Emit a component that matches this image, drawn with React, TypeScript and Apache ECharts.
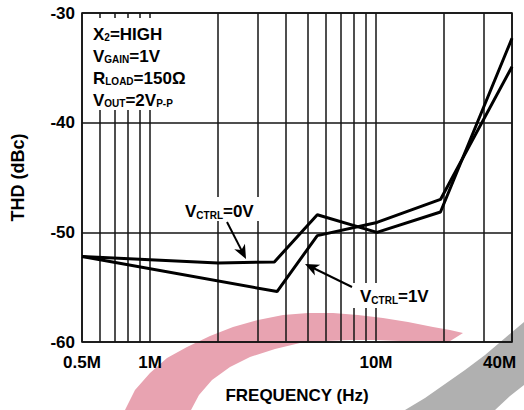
import React, { useEffect, useRef } from 'react';
import * as echarts from 'echarts';

// Axis ticks / grid (MHz on x, dBc on y)
const FREQ_LABELS = [0.5, 1, 10, 40];
const FREQ_GRID = [0.5, 0.6, 0.7, 0.8, 0.9, 1, 2, 3, 4, 5, 6, 7, 8, 9, 10, 20, 30, 40];
const THD_MIN = -60;
const THD_MAX = -30;
const THD_STEP = 10;

// Series: VCTRL = 0V
const FREQ_0V = [0.5, 2, 3.55, 5.5, 10.1, 19.3, 40];
const THD_0V = [-52.2, -52.8, -52.7, -48.4, -50.0, -48.15, -32.3];
// Series: VCTRL = 1V
const FREQ_1V = [0.5, 3.65, 5.5, 10.1, 19.3, 40];
const THD_1V = [-52.2, -55.4, -50.3, -49.1, -47.0, -34.9];

const FONT = "'Liberation Sans', Arial, Helvetica, sans-serif";

const zip = (xs: number[], ys: number[]) => xs.map((x, i) => [x, ys[i]]);

function arrow(x1: number, y1: number, x2: number, y2: number) {
  const dx = x2 - x1;
  const dy = y2 - y1;
  const len = Math.hypot(dx, dy);
  const ux = dx / len;
  const uy = dy / len;
  const nx = -uy;
  const ny = ux;
  const L = 14;
  const W = 6;
  const bx = x2 - ux * L;
  const by = y2 - uy * L;
  return [
    {
      type: 'line',
      z: 12,
      shape: { x1, y1, x2: x2 - ux * 8, y2: y2 - uy * 8 },
      style: { stroke: '#000', lineWidth: 2 },
    },
    {
      type: 'polygon',
      z: 12,
      shape: {
        points: [
          [x2, y2],
          [bx + nx * W, by + ny * W],
          [x2 - ux * L * 0.72, y2 - uy * L * 0.72],
          [bx - nx * W, by - ny * W],
        ],
      },
      style: { fill: '#000' },
    },
  ];
}

const richText = {
  m: { fontFamily: FONT, fontWeight: 'bold', fontSize: 17, lineHeight: 22, verticalAlign: 'bottom', fill: '#000' },
  s: { fontFamily: FONT, fontWeight: 'bold', fontSize: 10, lineHeight: 14, verticalAlign: 'bottom', fill: '#000' },
};

export default function App() {
  const ref = useRef<HTMLDivElement>(null);

  useEffect(() => {
    if (!ref.current) return;
    const chart = echarts.init(ref.current, undefined, { renderer: 'svg' });

    const pinkOuter = [
      [125, 410], [135, 390], [150, 373], [167, 358], [187, 347], [210, 336], [233, 327],
      [258, 320], [283, 315], [308, 313], [333, 313], [358, 315], [383, 318], [408, 322],
      [433, 327], [450, 330], [463, 333],
    ];
    const pinkInner = [
      [447, 343], [425, 341], [400, 341], [375, 340], [350, 340], [325, 341], [300, 343],
      [275, 349], [250, 357], [230, 367], [212, 380], [199, 395], [191, 410],
    ];
    const grayPts = [
      [405, 410], [425, 398], [445, 384], [465, 370], [485, 355], [505, 338], [524, 322],
      [524, 385], [510, 396], [495, 410],
    ];

    const graphic: any[] = [
      { type: 'polygon', z: -1, silent: true, shape: { points: [...pinkOuter, ...pinkInner] }, style: { fill: '#e8a3b1' } },
      { type: 'polygon', z: -1, silent: true, shape: { points: grayPts }, style: { fill: '#b0b0b0' } },
      // white masks behind the annotations
      { type: 'rect', z: 10, silent: true, shape: { x: 83.5, y: 18, width: 109, height: 92 }, style: { fill: '#fff' } },
      { type: 'rect', z: 10, silent: true, shape: { x: 182, y: 197, width: 80, height: 24 }, style: { fill: '#fff' } },
      { type: 'rect', z: 10, silent: true, shape: { x: 349, y: 283, width: 88, height: 25 }, style: { fill: '#fff' } },
      {
        type: 'text',
        z: 11,
        x: 93,
        y: 20.5,
        style: {
          text:
            '{m|X}{s|2}{m|=HIGH}\n{m|V}{s|GAIN}{m|=1V}\n{m|R}{s|LOAD}{m|=150Ω}\n{m|V}{s|OUT}{m|=2V}{s|P-P}',
          rich: richText,
          fontFamily: FONT,
          fontWeight: 'bold',
          fontSize: 17,
        },
      },
      {
        type: 'text',
        z: 11,
        x: 185,
        y: 198,
        style: { text: '{m|V}{s|CTRL}{m|=0V}', rich: richText, fontFamily: FONT, fontWeight: 'bold', fontSize: 17 },
      },
      {
        type: 'text',
        z: 11,
        x: 360,
        y: 283,
        style: { text: '{m|V}{s|CTRL}{m|=1V}', rich: richText, fontFamily: FONT, fontWeight: 'bold', fontSize: 17 },
      },
      ...arrow(227, 222, 246, 259),
      ...arrow(352, 287, 305, 264),
    ];

    const option: any = {
      animation: false,
      backgroundColor: '#fff',
      grid: {
        left: 82,
        right: 12,
        top: 13,
        bottom: 68,
        show: true,
        borderColor: '#000',
        borderWidth: 1.5,
        backgroundColor: 'transparent',
      },
      xAxis: {
        type: 'log',
        logBase: 10,
        min: 0.5,
        max: 40,
        name: 'FREQUENCY (Hz)',
        nameLocation: 'middle',
        nameGap: 45,
        nameTextStyle: { fontFamily: FONT, fontWeight: 'bold', fontSize: 17, color: '#000' },
        axisLine: { show: false },
        axisTick: { show: false, customValues: FREQ_GRID },
        minorTick: { show: false },
        axisLabel: {
          customValues: FREQ_LABELS,
          margin: 12,
          fontFamily: FONT,
          fontWeight: 'bold',
          fontSize: 17,
          color: '#000',
          formatter: (v: number) => (Math.abs(v - 40) < 1e-6 ? '{r|40M}' : `${v}M`),
          rich: {
            r: { width: 58, align: 'left', fontFamily: FONT, fontWeight: 'bold', fontSize: 17, color: '#000' },
          },
        },
        splitLine: { show: true, lineStyle: { color: '#141414', width: 1.5 } },
      },
      yAxis: {
        type: 'value',
        min: THD_MIN,
        max: THD_MAX,
        interval: THD_STEP,
        name: 'THD (dBc)',
        nameLocation: 'middle',
        nameGap: 55,
        nameTextStyle: { fontFamily: FONT, fontWeight: 'bold', fontSize: 18, color: '#000' },
        axisLine: { show: false },
        axisTick: { show: false },
        axisLabel: { margin: 7, fontFamily: FONT, fontWeight: 'bold', fontSize: 17, color: '#000' },
        splitLine: { show: true, lineStyle: { color: '#141414', width: 1.5 } },
      },
      series: [
        {
          name: 'VCTRL=0V',
          type: 'line',
          data: zip(FREQ_0V, THD_0V),
          symbol: 'none',
          silent: true,
          z: 3,
          lineStyle: { color: '#000', width: 3 },
        },
        {
          name: 'VCTRL=1V',
          type: 'line',
          data: zip(FREQ_1V, THD_1V),
          symbol: 'none',
          silent: true,
          z: 3,
          lineStyle: { color: '#000', width: 3 },
        },
      ],
      graphic,
    };

    chart.setOption(option);
    return () => chart.dispose();
  }, []);

  return (
    <div
      ref={ref}
      style={{ position: 'absolute', left: 0, top: 0, width: 524, height: 410 }}
    />
  );
}
